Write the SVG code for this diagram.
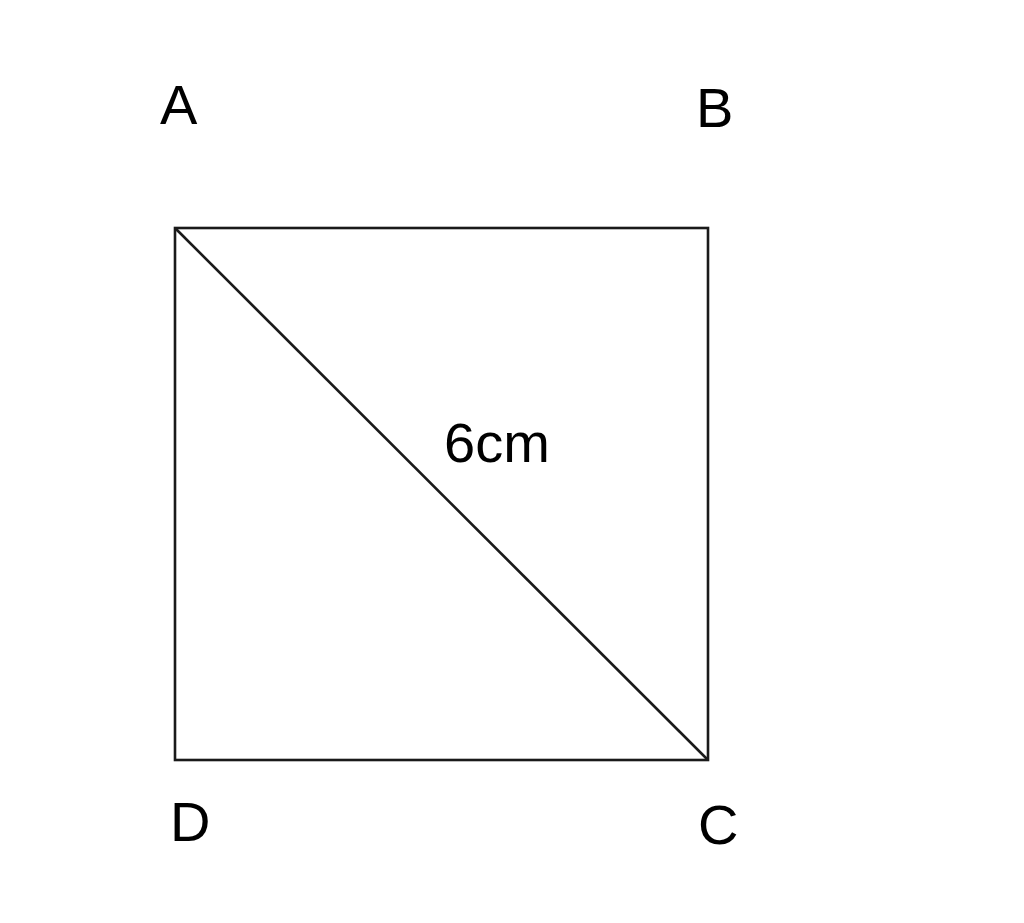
<svg xmlns="http://www.w3.org/2000/svg" width="1024" height="923" viewBox="0 0 1024 923">
<style>
.lbl{font-family:"Liberation Sans",Arial,sans-serif;font-size:56px;fill:#000}
.ln{fill:none;stroke:#1a1a1a;stroke-width:2.6}
</style>
<rect width="1024" height="923" fill="#fff"/>
<g id="connectors">
<rect class="ln" x="175" y="228" width="533" height="532"/>
<line class="ln" x1="175" y1="228" x2="708" y2="760"/>
</g>
<g id="label-A"><text class="lbl" x="160" y="124">A</text></g>
<g id="label-B"><text class="lbl" x="696" y="127">B</text></g>
<g id="label-D"><text class="lbl" x="170" y="841">D</text></g>
<g id="label-C"><text class="lbl" x="698" y="844">C</text></g>
<g id="label-6cm"><text class="lbl" x="444" y="462">6cm</text></g>
</svg>
